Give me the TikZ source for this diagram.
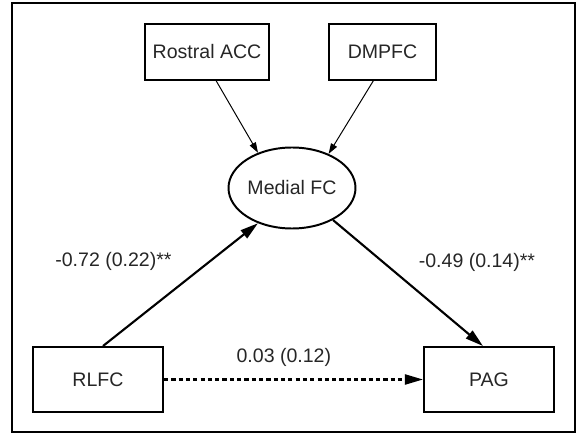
\documentclass[tikz,border=0pt]{standalone}
\usepackage{fontspec}
\setmainfont{Liberation Sans}
\usetikzlibrary{arrows.meta, positioning, shapes.geometric}

\begin{document}
\begin{tikzpicture}[
        box/.style={draw, line width=1.4pt, align=center, minimum width=3.25cm, minimum height=1.625cm, inner sep=2pt, font=\fontsize{13.9}{16.7}\selectfont, text=black!85},
        region/.style={draw, ellipse, line width=1.4pt, minimum width=3.175cm, minimum height=2.025cm, inner sep=0pt, font=\fontsize{13.9}{16.7}\selectfont, text=black!85},
        thin arrow/.style={-{Triangle[length=0.26cm, width=0.17cm]}, line width=0.7pt},
        path arrow/.style={-{Triangle[length=0.45cm, width=0.25cm]}, line width=1.5pt},
        direct/.style={path arrow, dash pattern=on 3pt off 2.2pt},
        coef/.style={font=\fontsize{13.9}{16.7}\selectfont, text=black!85}
    ]
        \useasboundingbox (0,0) rectangle (14.4,10.875);
        \draw[line width=1.4pt] (0.3,0.075) rectangle (14.375,10.8);

        \node[box] (rlfc) at (2.45,1.3875) {RLFC};
        \node[box, right=6.475cm of rlfc] (pag) {PAG};
        \node[region] (medial) at (7.3,6.175) {Medial FC};
        \node[box, minimum width=3.1cm, minimum height=1.4cm, above=1.65cm of medial, xshift=-2.125cm] (racc) {Rostral ACC};
        \node[box, minimum width=2.675cm, minimum height=1.4cm, above=1.65cm of medial, xshift=2.2625cm] (dmpfc) {DMPFC};

        \draw[thin arrow] ([xshift=0.225cm]racc.south) -- (medial.134);
        \draw[thin arrow] ([xshift=-0.225cm]dmpfc.south) -- (medial.43);
        \draw[path arrow] ([xshift=0.125cm]rlfc.north) -- (medial.226)
            node[coef, midway, xshift=-1.675cm, yshift=0.59cm] {-0.72 (0.22)**};
        \draw[path arrow] (medial.322) -- ([xshift=-0.15cm]pag.north)
            node[coef, midway, xshift=1.725cm, yshift=0.525cm] {-0.49 (0.14)**};
        \draw[direct] (rlfc.east) -- (pag.west)
            node[coef, midway, xshift=-0.24cm, yshift=0.55cm] {0.03 (0.12)};
    \end{tikzpicture}
\end{document}
